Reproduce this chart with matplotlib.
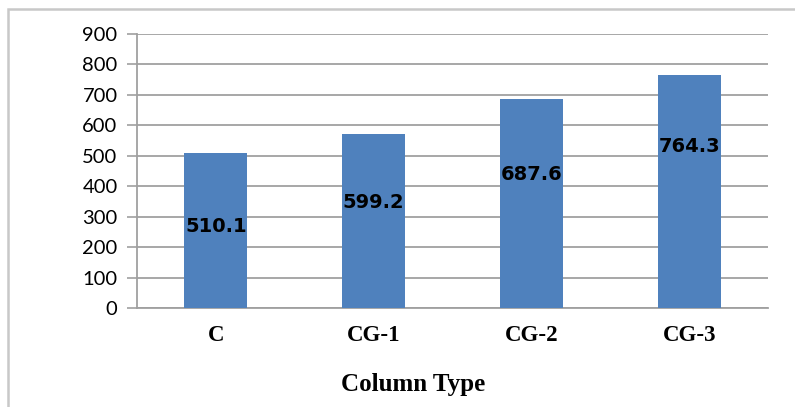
import matplotlib
matplotlib.use("Agg")
import matplotlib.pyplot as plt
from matplotlib.patches import Rectangle

# dados
tipos = ['C', 'CG-1', 'CG-2', 'CG-3']
alturas = [510.1, 573, 687.6, 764.3]
rotulos = ['510.1', '599.2', '687.6', '764.3']
pos_rotulos = [267, 345, 437, 529]
ticks_y = [0, 100, 200, 300, 400, 500, 600, 700, 800, 900]

fig = plt.figure(figsize=(7.95, 4.07), dpi=100)
ax = fig.add_axes([137/795, 1 - 308/407, (768 - 137)/795, (308 - 34)/407])

# moldura exterior
fig.patches.append(Rectangle((8/795, -0.1), 1.2, (407 - 9)/407 + 0.1,
                             transform=fig.transFigure, fill=False,
                             edgecolor='#c8c8c8', linewidth=1.8))

x = range(len(tipos))
ax.bar(x, alturas, width=0.4, color='#4F81BD', zorder=3)

for i, r in enumerate(rotulos):
    ax.text(i, pos_rotulos[i], r, ha='center', va='center',
            fontsize=14, fontweight='bold', family='DejaVu Sans', zorder=4)

ax.set_xlim(-0.5, 3.5)
ax.set_ylim(0, 900)
ax.set_yticks(ticks_y)
ax.set_xticks(list(x))
ax.set_xticklabels(tipos, family='Liberation Serif', fontweight='bold', fontsize=16.5)
ax.tick_params(axis='x', length=0, pad=12)
ax.tick_params(axis='y', length=7, width=1.2, color='#a0a0a0', labelsize=14.5, pad=7)
for lbl in ax.get_yticklabels():
    lbl.set_family('Lato')

ax.grid(axis='y', color='#a0a0a0', linewidth=1.3, zorder=0)
for s in ['top', 'right']:
    ax.spines[s].set_visible(False)
for s in ['left', 'bottom']:
    ax.spines[s].set_color('#a0a0a0')
    ax.spines[s].set_linewidth(1.3)

fig.text(413/795, 1 - 385/407, 'Column Type', ha='center', va='center',
         family='Liberation Serif', fontweight='bold', fontsize=18)

fig.savefig('out.png', dpi=100)
